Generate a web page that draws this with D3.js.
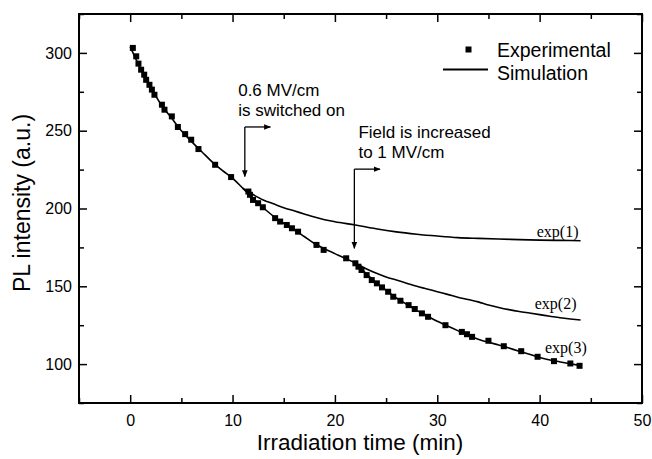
<!DOCTYPE html>
<html>
<head>
<meta charset="utf-8">
<script src="https://cdn.jsdelivr.net/npm/d3@7"></script>
<style>
  body { margin: 0; background: #fff; }
  svg { display: block; }
  text { font-family: "Liberation Sans", Arial, sans-serif; fill: #000; }
</style>
</head>
<body>
<div id="chart"></div>
<script>
// experimental points: time (min), PL intensity (a.u.)
const expTime = [0.26, 0.59, 0.81, 1.07, 1.37, 1.56, 1.88, 2.12, 2.37, 3.1, 3.35, 4.07, 4.66, 5.37, 5.96, 6.67, 8.3, 9.86,
  11.55, 11.7, 12.0, 12.5, 12.96, 14.16, 14.65, 15.3, 15.8, 16.4, 18.2, 18.9, 21.1,
  22.0, 22.3, 22.6, 23.1, 23.6, 24.1, 24.6, 25.2, 25.7, 26.4, 27.2, 27.8, 28.5, 29.1, 30.8,
  32.4, 32.9, 33.4, 35.0, 36.5, 38.2, 39.8, 41.4, 43.0, 43.9];
const expValue = [303.2, 297.8, 293.1, 289.2, 286.0, 282.7, 279.5, 276.4, 273.1, 266.7, 263.5, 259.2, 252.4, 247.8, 244.2, 238.2, 228.1, 220.2,
  210.9, 208.8, 205.5, 203.4, 200.8, 193.8, 191.6, 189.4, 187.3, 185.1, 176.6, 173.4, 168.0,
  164.8, 162.6, 160.5, 157.2, 154.0, 151.9, 149.3, 146.5, 143.3, 140.7, 137.9, 135.4, 132.6, 130.4, 125.0,
  120.7, 119.2, 117.5, 115.0, 111.5, 108.3, 104.7, 101.9, 100.4, 98.9];

// simulation curves
const sim3Time = [0, 1, 2, 3, 4, 5, 6, 7, 8, 9, 10, 11, 12, 13, 14, 15, 16, 17, 18, 19, 20, 21, 22,
  23, 24, 25, 26, 27, 28, 29, 30, 31, 32, 33, 34, 35, 36, 37, 38, 39, 40, 41, 42, 43, 44];
const sim3Value = [304, 290, 278, 267, 258.5, 250, 243, 236.5, 230, 224.5, 219.5, 213, 206.5, 200.5, 195, 190.5, 186.5, 182, 177.5, 174, 171, 168, 164.8,
  158.5, 152.5, 147.5, 142.5, 138.5, 134.5, 131, 127.5, 124.5, 121.5, 118.5, 116, 114, 112.3, 110.3, 108.3, 106.3, 104.2, 102.6, 101.4, 100.2, 99];
const sim1Time = [11, 12, 13, 14, 15, 16, 17, 18, 19, 20, 22, 24, 26, 28, 30, 32, 34, 36, 38, 40, 42, 44];
const sim1Value = [213, 209, 205.5, 203, 200.5, 198.5, 196.5, 194.5, 192.8, 191.5, 189.4, 187, 185, 183.5, 182.3, 181.3, 180.8, 180.4, 180, 179.7, 179.5, 179.3];
const sim2Time = [22, 23, 24, 25, 26, 27, 28, 29, 30, 31, 32, 33, 34, 35, 36, 37, 38, 39, 40, 41, 42, 43, 44];
const sim2Value = [164.8, 161.5, 158.5, 156, 154, 152, 150, 148.3, 146.5, 144.8, 143, 141.5, 140, 138, 136.4, 135, 133.8, 132.8, 131.8, 130.8, 129.8, 129, 128.3];

const simLabels = ['exp(1)', 'exp(2)', 'exp(3)'];
const simLabelAt = [[43.8, 182], [43.6, 135.5], [44.6, 107.2]];

const xTicks = [0, 10, 20, 30, 40, 50];
const xMinor = [-5, 5, 15, 25, 35, 45];
const yTicks = [100, 150, 200, 250, 300];
const yMinor = [75, 125, 175, 225, 275, 325];

// annotations: arrow at time, top/bottom values, horizontal end
const noteText = [['0.6 MV/cm', 'is switched on'], ['Field is increased', 'to 1 MV/cm']];
const noteTime = [11.2, 21.9];
const noteTextTime = [10.55, 22.3];
const noteTop = [252.4, 225.3];
const noteBottom = [220.5, 174.4];
const noteEnd = [13.7, 24.4];

const W = 652, H = 459;
const margin = {top: 14, right: 10, bottom: 56, left: 79};

const svg = d3.select('#chart').append('svg')
  .attr('width', W)
  .attr('height', H);

const x = d3.scaleLinear().domain([-5, 50]).range([margin.left, W - margin.right]);
const y = d3.scaleLinear().domain([75, 325]).range([H - margin.bottom, margin.top]);

svg.append('defs').append('marker')
  .attr('id', 'arrow')
  .attr('viewBox', '0 0 10 10')
  .attr('refX', 9).attr('refY', 5)
  .attr('markerWidth', 7).attr('markerHeight', 7)
  .attr('markerUnits', 'userSpaceOnUse')
  .attr('orient', 'auto')
  .append('path')
  .attr('d', 'M0,1 L10,5 L0,9 Z')
  .attr('fill', '#000');

// axes, ticks inward
const addAxis = (axis, transform, label) => {
  const g = svg.append('g').attr('transform', transform).call(axis);
  g.select('.domain').remove();
  g.selectAll('line').attr('stroke-width', 1.5);
  g.selectAll('text')
    .style('font-size', '16px')
    .style('font-family', '"Liberation Sans", Arial, sans-serif');
  if (!label) g.selectAll('text').remove();
  return g;
};

const bottomY = y.range()[0], topY = y.range()[1];
const leftX = x.range()[0], rightX = x.range()[1];

addAxis(d3.axisBottom(x).tickValues(xTicks).tickSize(-8).tickSizeOuter(0).tickPadding(12).tickFormat(d3.format('d')), `translate(0,${bottomY})`, true);
addAxis(d3.axisBottom(x).tickValues(xMinor).tickSize(-5).tickSizeOuter(0).tickFormat(''), `translate(0,${bottomY})`, false);
addAxis(d3.axisTop(x).tickValues(xTicks).tickSize(-8).tickSizeOuter(0), `translate(0,${topY})`, false);
addAxis(d3.axisTop(x).tickValues(xMinor).tickSize(-5).tickSizeOuter(0), `translate(0,${topY})`, false);
addAxis(d3.axisLeft(y).tickValues(yTicks).tickSize(-8).tickSizeOuter(0).tickPadding(7), `translate(${leftX},0)`, true);
addAxis(d3.axisLeft(y).tickValues(yMinor).tickSize(-5).tickSizeOuter(0).tickFormat(''), `translate(${leftX},0)`, false);
addAxis(d3.axisRight(y).tickValues(yTicks).tickSize(-8).tickSizeOuter(0), `translate(${rightX},0)`, false);
addAxis(d3.axisRight(y).tickValues(yMinor).tickSize(-5).tickSizeOuter(0), `translate(${rightX},0)`, false);

svg.append('rect')
  .attr('x', leftX).attr('y', topY)
  .attr('width', rightX - leftX).attr('height', bottomY - topY)
  .attr('fill', 'none')
  .attr('stroke', '#000')
  .attr('stroke-width', 2);

// axis titles
svg.append('text')
  .attr('x', 360).attr('y', 450)
  .attr('text-anchor', 'middle')
  .style('font-size', '22.5px')
  .text('Irradiation time (min)');

svg.append('text')
  .attr('transform', `translate(30,${203}) rotate(-90)`)
  .attr('text-anchor', 'middle')
  .style('font-size', '23px')
  .text('PL intensity (a.u.)');

// simulation lines
const line = d3.line()
  .x(d => x(d[0]))
  .y(d => y(d[1]))
  .curve(d3.curveMonotoneX);

const sims = [
  d3.zip(sim1Time, sim1Value),
  d3.zip(sim2Time, sim2Value),
  d3.zip(sim3Time, sim3Value)
];

svg.append('g').selectAll('path')
  .data(sims)
  .enter().append('path')
  .attr('d', line)
  .attr('fill', 'none')
  .attr('stroke', '#000')
  .attr('stroke-width', 1.6);

svg.append('g').selectAll('text')
  .data(simLabels)
  .enter().append('text')
  .attr('x', (d, i) => x(simLabelAt[i][0]))
  .attr('y', (d, i) => y(simLabelAt[i][1]))
  .attr('text-anchor', 'end')
  .style('font-family', '"Liberation Serif", "Times New Roman", serif')
  .style('font-size', '16px')
  .text(d => d);

// experimental squares
const sq = 6;
svg.append('g').selectAll('rect')
  .data(d3.zip(expTime, expValue))
  .enter().append('rect')
  .attr('x', d => x(d[0]) - sq / 2)
  .attr('y', d => y(d[1]) - sq / 2)
  .attr('width', sq)
  .attr('height', sq)
  .attr('fill', '#000');

// annotations
noteText.forEach((lines, i) => {
  const ax = x(noteTime[i]);
  const top = y(noteTop[i]);
  svg.append('line')
    .attr('x1', ax).attr('y1', top)
    .attr('x2', ax).attr('y2', y(noteBottom[i]))
    .attr('stroke', '#000').attr('stroke-width', 1.3)
    .attr('marker-end', 'url(#arrow)');
  svg.append('line')
    .attr('x1', ax).attr('y1', top)
    .attr('x2', x(noteEnd[i])).attr('y2', top)
    .attr('stroke', '#000').attr('stroke-width', 1.3)
    .attr('marker-end', 'url(#arrow)');
  lines.forEach((t, j) => {
    svg.append('text')
      .attr('x', x(noteTextTime[i]))
      .attr('y', top - 31 + j * 20)
      .style('font-size', '17px')
      .text(t);
  });
});

// legend
const legend = svg.append('g');
legend.append('rect')
  .attr('x', 465.5).attr('y', 46.5)
  .attr('width', 6).attr('height', 6)
  .attr('fill', '#000');
legend.append('line')
  .attr('x1', 443).attr('x2', 488)
  .attr('y1', 69.5).attr('y2', 69.5)
  .attr('stroke', '#000').attr('stroke-width', 2);
legend.selectAll('text')
  .data(['Experimental', 'Simulation'])
  .enter().append('text')
  .attr('x', 497)
  .attr('y', (d, i) => 57 + i * 23)
  .style('font-size', '19.5px')
  .text(d => d);
</script>
</body>
</html>
